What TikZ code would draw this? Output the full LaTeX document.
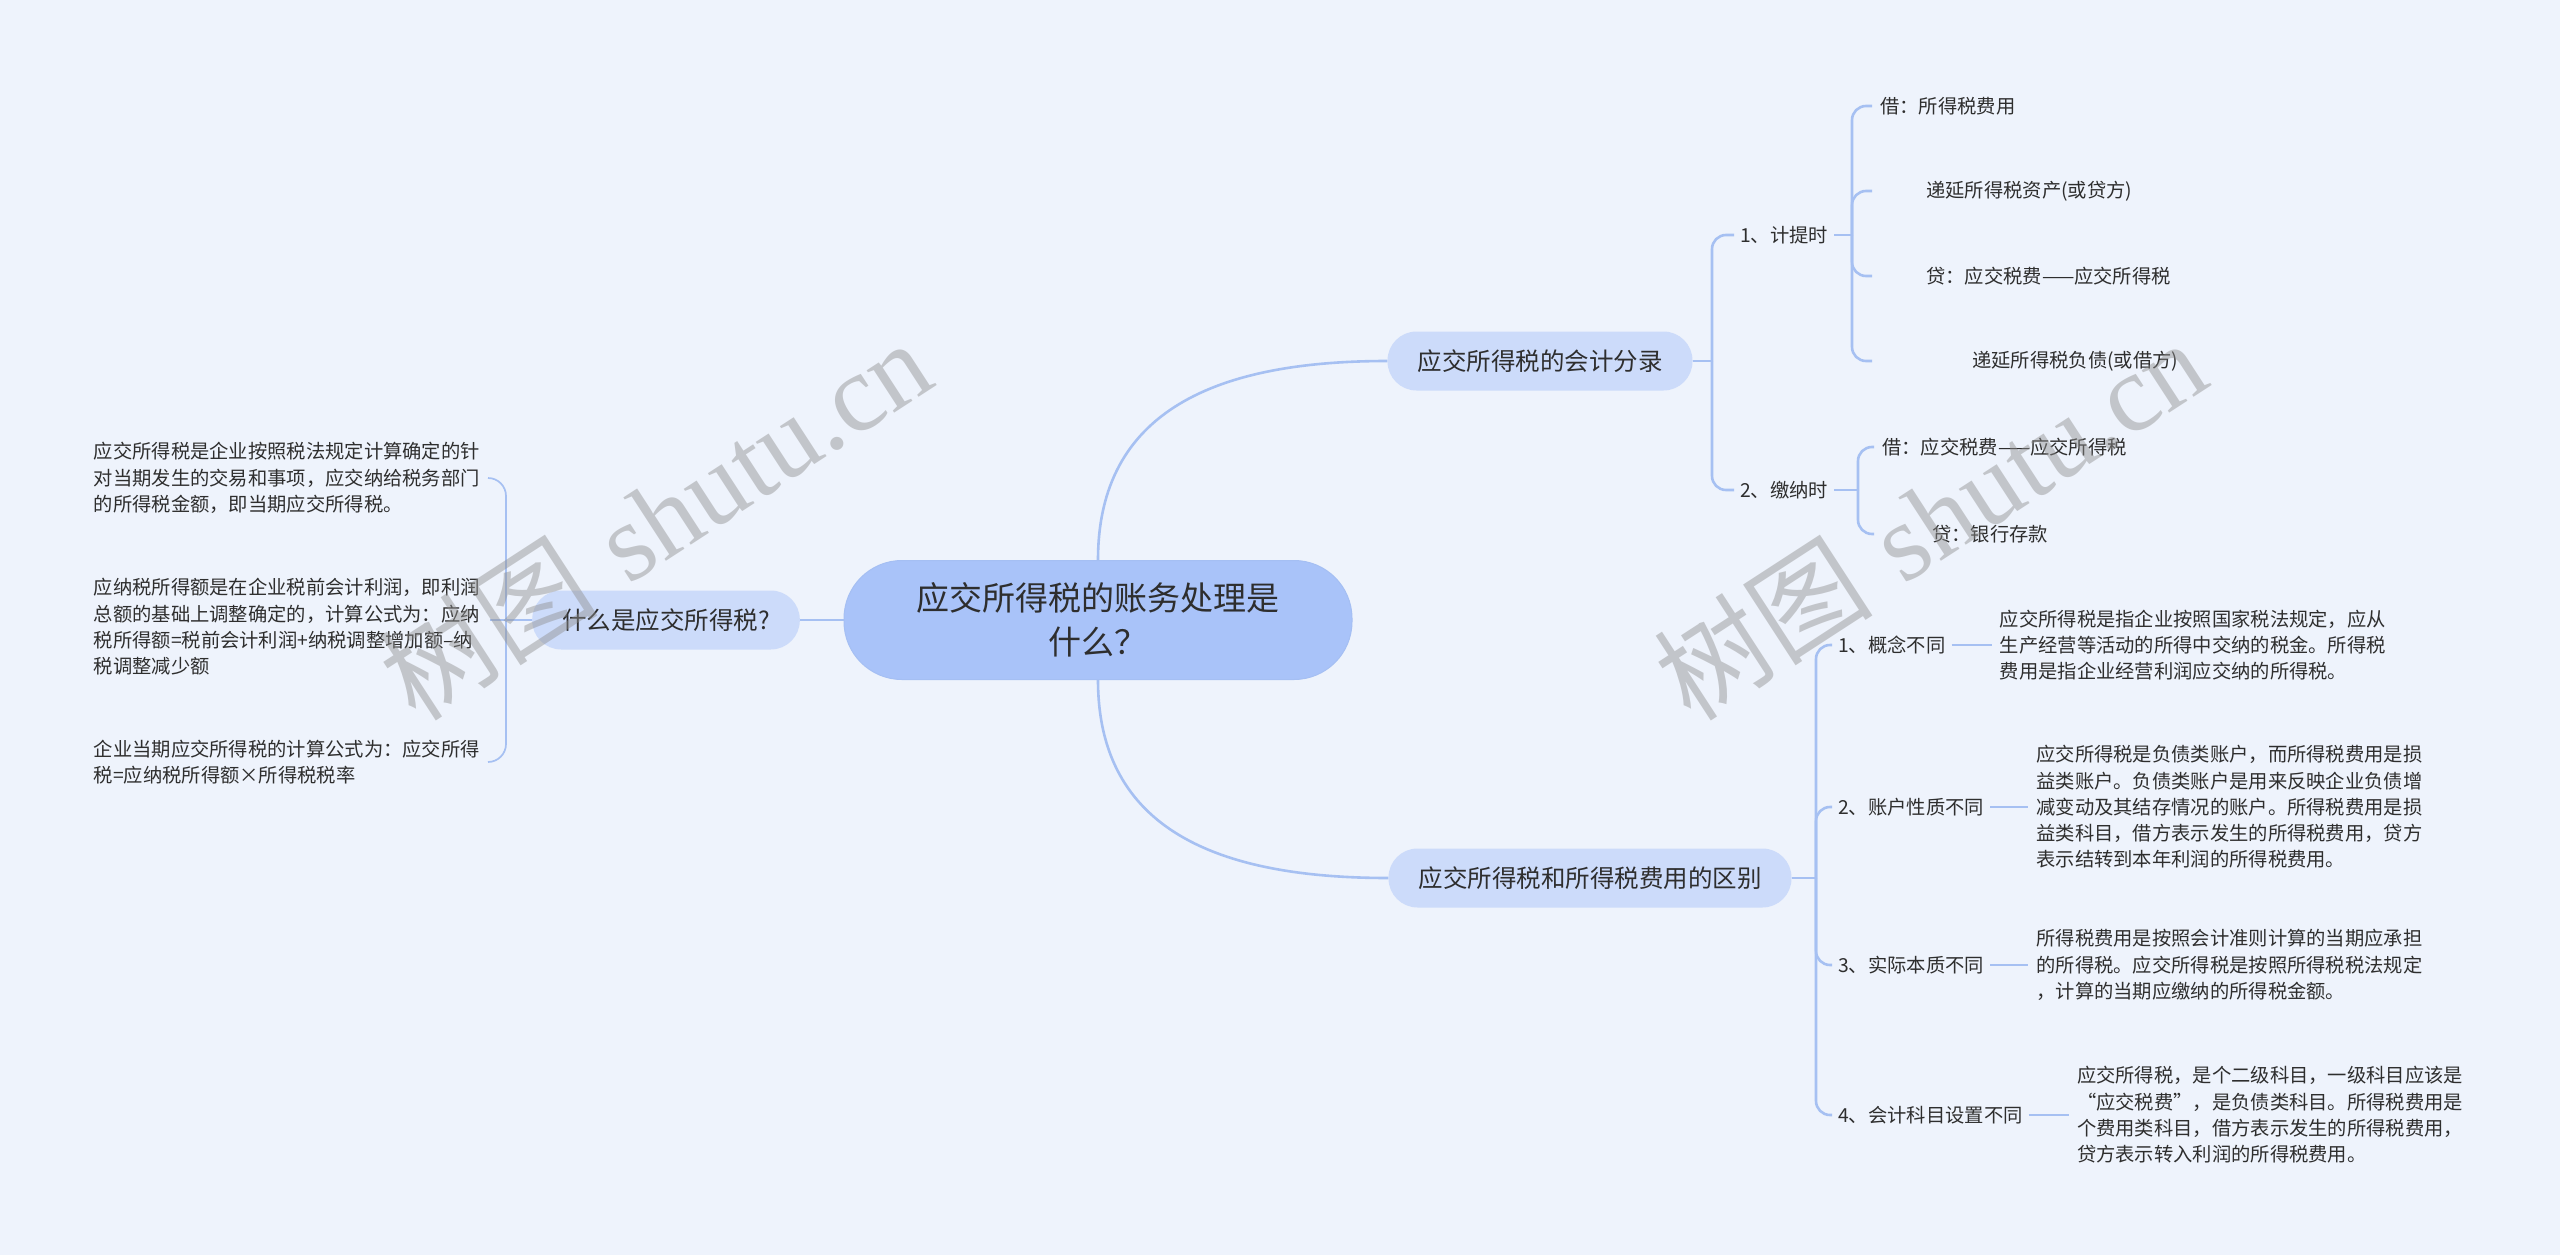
\documentclass[tikz,border=0pt]{standalone}
\usepackage{fontspec}
\usetikzlibrary{positioning}
\newfontfamily\cjk{Noto Sans CJK SC}
\newfontfamily\wmserif{Liberation Serif}
\definecolor{canvas}{HTML}{EEF3FC}
\definecolor{ink}{HTML}{2E2E2E}
\definecolor{limbcol}{HTML}{A6C0F2}
\definecolor{rootfill}{HTML}{A9C3F9}
\definecolor{topicfill}{HTML}{CCDBFA}
\definecolor{wmgray}{HTML}{8E8E8E}
\tikzset{
  rootbox/.style={rounded corners=58pt,fill=rootfill,draw=limbcol!90!black!20!rootfill,line width=1pt,
                  minimum width=508pt,minimum height=119pt,align=center,text=ink,
                  font=\cjk\fontsize{33}{44}\selectfont},
  topicbox/.style={rounded corners=29pt,fill=topicfill,minimum height=59pt,inner xsep=30pt,
                   text=ink,font=\cjk\fontsize{24.5}{30}\selectfont},
  subtopic/.style={inner xsep=6pt,inner ysep=2pt,text=ink,font=\cjk\fontsize{19.3}{26.3}\selectfont},
  leaftext/.style={subtopic,inner xsep=8pt,inner ysep=0pt,align=left},
  limb/.style={draw=limbcol,line width=2.6pt},
  forkline/.style={limb,rounded corners=14pt},
  thinfork/.style={forkline,line width=1.7pt,rounded corners=18pt},
  watermark/.style={font=\fontsize{110}{110}\selectfont,text=wmgray,opacity=0.45,rotate=33}
}
\begin{document}
\begin{tikzpicture}[x=1pt,y=-1pt]
  \fill[canvas] (0,0) rectangle (2560,1255);
  \useasboundingbox (0,0) rectangle (2560,1255);

  \node[rootbox] (root) at (1098,620) {应交所得税的账务处理是\\什么？};
  \node[topicbox] (what) at (666,620) {什么是应交所得税?};
  \node[topicbox] (entry) at (1540,361) {应交所得税的会计分录};
  \node[topicbox] (diff) at (1590,878) {应交所得税和所得税费用的区别};

  \node[leaftext,anchor=east] (defA) at (488,478) {应交所得税是企业按照税法规定计算确定的针\\对当期发生的交易和事项，应交纳给税务部门\\的所得税金额，即当期应交所得税。};
  \node[leaftext,anchor=east] (defB) at (488,627) {应纳税所得额是在企业税前会计利润，即利润\\总额的基础上调整确定的，计算公式为：应纳\\税所得额=税前会计利润+纳税调整增加额–纳\\税调整减少额};
  \node[leaftext,anchor=east] (defC) at (488,762) {企业当期应交所得税的计算公式为：应交所得\\税=应纳税所得额×所得税税率};

  \node[subtopic,anchor=west] (jiti) at (1734,235) {1、计提时};
  \node[subtopic,anchor=west] (jiao) at (1734,490) {2、缴纳时};
  \node[leaftext,anchor=west] (j1) at (1872,106) {借：所得税费用};
  \node[leaftext,anchor=west] (j2) at (1872,191) {\hspace*{46pt}递延所得税资产(或贷方)};
  \node[leaftext,anchor=west] (j3) at (1872,276) {\hspace*{46pt}贷：应交税费——应交所得税};
  \node[leaftext,anchor=west] (j4) at (1872,361) {\hspace*{92pt}递延所得税负债(或借方)};
  \node[leaftext,anchor=west] (k1) at (1874,447) {借：应交税费——应交所得税};
  \node[leaftext,anchor=west] (k2) at (1874,534) {\hspace*{50pt}贷：银行存款};

  \node[subtopic,anchor=west] (d1) at (1832,645) {1、概念不同};
  \node[subtopic,anchor=west] (d2) at (1832,807) {2、账户性质不同};
  \node[subtopic,anchor=west] (d3) at (1832,965) {3、实际本质不同};
  \node[subtopic,anchor=west] (d4) at (1832,1115) {4、会计科目设置不同};
  \node[leaftext,right=40pt of d1] (e1) {应交所得税是指企业按照国家税法规定，应从\\生产经营等活动的所得中交纳的税金。所得税\\费用是指企业经营利润应交纳的所得税。};
  \node[leaftext,right=38pt of d2] (e2) {应交所得税是负债类账户，而所得税费用是损\\益类账户。负债类账户是用来反映企业负债增\\减变动及其结存情况的账户。所得税费用是损\\益类科目，借方表示发生的所得税费用，贷方\\表示结转到本年利润的所得税费用。};
  \node[leaftext,right=38pt of d3] (e3) {所得税费用是按照会计准则计算的当期应承担\\的所得税。应交所得税是按照所得税税法规定\\，计算的当期应缴纳的所得税金额。};
  \node[leaftext,right=40pt of d4] (e4) {应交所得税，是个二级科目，一级科目应该是\\“应交税费”，是负债类科目。所得税费用是\\个费用类科目，借方表示发生的所得税费用，\\贷方表示转入利润的所得税费用。};

  \coordinate (wfork) at (506,620);
  \coordinate (wstub) at (490,620);
  \coordinate (efork) at (1712,361);
  \coordinate (jfork) at (1852,235);
  \coordinate (kfork) at (1858,490);
  \coordinate (dfork) at (1816,878);

  \draw[limb] (root.west) -- (what.east);
  \draw[limb] (root.north) .. controls +(0,-150) and +(-170,0) .. (entry.west);
  \draw[limb] (root.south) .. controls +(0,150) and +(-170,0) .. (diff.west);

  \draw[limb,line width=1.7pt] (what.west) -- (wstub);
  \draw[thinfork] (wfork) |- (defA.east);
  \draw[thinfork] (wfork) |- (defC.east);

  \draw[limb] (entry.east) -- (efork);
  \draw[forkline] (efork) |- (jiti.west);
  \draw[forkline] (efork) |- (jiao.west);

  \draw[limb] (jiti.east) -- (jfork);
  \foreach \n in {j1,j2,j3,j4}{\draw[forkline] (jfork) |- (\n.west);}
  \draw[limb] (jiao.east) -- (kfork);
  \foreach \n in {k1,k2}{\draw[forkline] (kfork) |- (\n.west);}

  \draw[limb] (diff.east) -- (dfork);
  \foreach \n in {1,2,3,4}{
    \draw[forkline] (dfork) |- (d\n.west);
    \draw[limb] (d\n.east) -- (e\n.west);}

  \node[watermark] (wmA) at (655,519) {{\cjk 树图} {\wmserif shutu.cn}};
  \node[watermark] (wmB) at (1930,519) {{\cjk 树图} {\wmserif shutu.cn}};
\end{tikzpicture}
\end{document}
